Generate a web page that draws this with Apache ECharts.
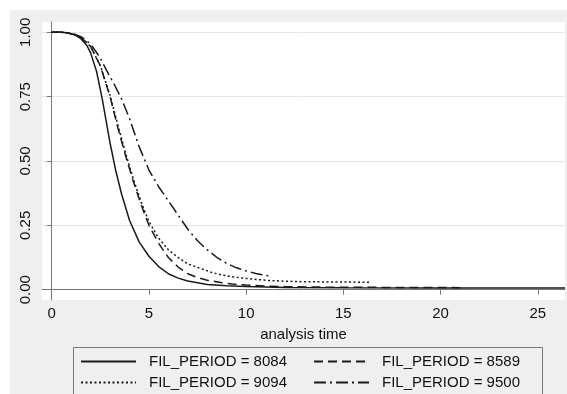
<!DOCTYPE html>
<html><head><meta charset="utf-8">
<script src="https://cdn.jsdelivr.net/npm/echarts@6/dist/echarts.min.js"></script>
<style>html,body{margin:0;padding:0;background:#fff}#c{width:567px;height:394px}</style>
</head><body><div id="c"></div>
<script>
const seriesNames = ['FIL_PERIOD = 8084','FIL_PERIOD = 8589','FIL_PERIOD = 9094','FIL_PERIOD = 9500'];
const xTicks = [0,5,10,15,20,25];
const yTicks = [0,0.25,0.5,0.75,1];
const s8084 = [[0,1],[0.5,1],[0.8,0.998],[1.2,0.99],[1.5,0.975],[1.8,0.95],[2.0,0.92],[2.3,0.85],[2.6,0.74],[3.0,0.57],[3.3,0.46],[3.6,0.37],[4.0,0.27],[4.5,0.185],[5.0,0.13],[5.5,0.09],[6.0,0.062],[6.5,0.045],[7.0,0.034],[7.5,0.027],[8,0.02],[9,0.015],[10,0.012],[12,0.009],[15,0.008],[20,0.007],[26.4,0.007]];
const s8589 = [[0,1],[0.5,1],[0.8,0.998],[1.2,0.99],[1.5,0.98],[1.8,0.96],[2.0,0.945],[2.5,0.87],[3.0,0.75],[3.4,0.63],[3.8,0.52],[4.2,0.42],[4.6,0.33],[5.0,0.25],[5.5,0.18],[6.0,0.125],[6.5,0.088],[7.0,0.062],[7.5,0.047],[8,0.037],[8.7,0.028],[9.3,0.022],[10,0.018],[11,0.014],[12,0.012],[14,0.01],[17,0.009],[21.3,0.008]];
const s9094 = [[0,1],[0.5,1],[0.8,0.998],[1.2,0.99],[1.5,0.98],[1.8,0.96],[2.0,0.945],[2.5,0.87],[3.0,0.755],[3.4,0.64],[3.8,0.53],[4.2,0.43],[4.6,0.34],[5.0,0.265],[5.5,0.2],[6.0,0.155],[6.5,0.125],[7.0,0.1],[7.6,0.084],[8.2,0.068],[8.7,0.058],[9.5,0.048],[10.2,0.042],[11.1,0.036],[12,0.033],[13,0.031],[14.5,0.03],[16.4,0.029]];
const s9500 = [[0,1],[0.5,1],[0.8,0.998],[1.2,0.992],[1.5,0.983],[2.0,0.955],[2.5,0.9],[2.8,0.855],[3.2,0.8],[3.6,0.74],[4.0,0.665],[4.5,0.555],[5.0,0.465],[5.5,0.4],[6.0,0.345],[6.5,0.29],[7.0,0.235],[7.5,0.19],[8.0,0.155],[8.5,0.125],[9.0,0.102],[9.5,0.085],[10.0,0.073],[10.5,0.063],[11.2,0.053]];
const seriesData = [s8084, s8589, s9094, s9500];
const dashTypes = ['solid', [9,5], [2,2.5], [12,4,2,4]];

const FONT = "'Liberation Sans', Arial, sans-serif";
const chart = echarts.init(document.getElementById('c'));
const legendCommon = {
  orient: 'horizontal', itemWidth: 55, itemHeight: 14, itemGap: 26, z: 20, padding: 0,
  icon: 'inherit',
  itemStyle: {opacity: 0},
  textStyle: {fontFamily: FONT, fontSize: 15, color: '#111', padding: [0,0,0,8]},
  selectedMode: false
};
chart.setOption({
  animation: false,
  backgroundColor: '#efefef',
  graphic: {
    elements: [
      {type: 'rect', silent: true, shape: {x: 0, y: 0, width: 567, height: 10}, style: {fill: '#fff'}},
      {type: 'rect', silent: true, shape: {x: 0, y: 0, width: 10, height: 394}, style: {fill: '#fff'}},
      {type: 'rect', silent: true, shape: {x: 73.5, y: 347.5, width: 469, height: 60}, style: {fill: 'none', stroke: '#777', lineWidth: 1}}
    ]
  },
  grid: {left: 42, top: 22, right: 2, bottom: 94, show: true, backgroundColor: '#fff', borderWidth: 0},
  legend: [
    Object.assign({}, legendCommon, {data: [seriesNames[0], seriesNames[1]], left: 80, top: 354}),
    Object.assign({}, legendCommon, {data: [seriesNames[2], seriesNames[3]], left: 80, top: 375})
  ],
  xAxis: {
    type: 'value', min: -0.5, max: 26.4,
    name: 'analysis time', nameLocation: 'middle', nameGap: 27,
    nameTextStyle: {fontFamily: FONT, fontSize: 15, color: '#111'},
    axisLine: {show: true, lineStyle: {color: '#777', width: 1}},
    axisTick: {show: true, length: 5, lineStyle: {color: '#777'}, customValues: xTicks},
    axisLabel: {fontFamily: FONT, fontSize: 15, color: '#111', margin: 6, customValues: xTicks},
    splitLine: {show: false}
  },
  yAxis: {
    type: 'value', min: -0.04, max: 1.04,
    axisLine: {show: true, lineStyle: {color: '#777', width: 1}},
    axisTick: {show: true, length: 5, lineStyle: {color: '#777'}, customValues: yTicks},
    axisLabel: {fontFamily: FONT, fontSize: 15, color: '#111', margin: 9, rotate: 90,
      customValues: yTicks, formatter: v => v.toFixed(2)},
    splitLine: {show: true, lineStyle: {color: '#e6e6e6', width: 1}}
  },
  series: seriesNames.map((n, i) => ({
    name: n, type: 'line', data: seriesData[i], showSymbol: false, symbol: 'none',
    smooth: false,
    lineStyle: {color: '#1a1a1a', width: 1.5, type: dashTypes[i]},
    itemStyle: {color: '#1a1a1a'}
  }))
});
</script></body></html>
